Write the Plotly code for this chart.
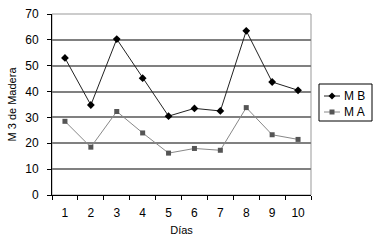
import plotly.graph_objects as go

dias = [1, 2, 3, 4, 5, 6, 7, 8, 9, 10]
mb = [53, 34.8, 60.3, 45.2, 30.5, 33.5, 32.5, 63.5, 43.7, 40.5]
ma = [28.5, 18.5, 32.3, 24, 16.2, 18, 17.3, 33.8, 23.3, 21.5]
y_ticks = [0, 10, 20, 30, 40, 50, 60, 70]
series_names = ["M B", "M A"]

fig = go.Figure()
fig.add_trace(go.Scatter(x=dias, y=mb, name=series_names[0], mode="lines+markers",
                         line=dict(color="#222222", width=1),
                         marker=dict(symbol="diamond", size=6, color="#000000")))
fig.add_trace(go.Scatter(x=dias, y=ma, name=series_names[1], mode="lines+markers",
                         line=dict(color="#888888", width=1),
                         marker=dict(symbol="square", size=5, color="#555555")))

# custom compact legend (pixel offsets from the plot's top-right corner)
def pshape(kind, x0, x1, y0, y1, **kw):
    return dict(type=kind, xref="paper", yref="paper", xsizemode="pixel", ysizemode="pixel",
                xanchor=1, yanchor=1, x0=x0, x1=x1, y0=y0, y1=y1, **kw)

shapes = [
    dict(type="rect", xref="paper", yref="paper", x0=0, x1=1, y0=0, y1=1,
         line=dict(color="#999999", width=1), layer="below"),
    pshape("rect", 8, 61, -70, -107, line=dict(color="#000000", width=1), fillcolor="white"),
    pshape("line", 13, 29, -82, -82, line=dict(color="#222222", width=1)),
    dict(type="path", xref="paper", yref="paper", xsizemode="pixel", ysizemode="pixel",
         xanchor=1, yanchor=1, path="M 21 -78.5 L 24.5 -82 L 21 -85.5 L 17.5 -82 Z",
         fillcolor="#000000", line=dict(color="#000000", width=0)),
    pshape("line", 13, 29, -98, -98, line=dict(color="#888888", width=1)),
    pshape("rect", 18.5, 23.5, -95.5, -100.5, fillcolor="#555555", line=dict(width=0)),
]
annotations = [
    dict(text=series_names[0], xref="paper", yref="paper", x=1, y=1, xshift=31, yshift=-82,
         xanchor="left", yanchor="middle", showarrow=False, font=dict(size=12)),
    dict(text=series_names[1], xref="paper", yref="paper", x=1, y=1, xshift=31, yshift=-98,
         xanchor="left", yanchor="middle", showarrow=False, font=dict(size=12)),
]

fig.update_layout(
    width=373, height=243,
    margin=dict(l=52, r=62, t=14, b=48, autoexpand=False),
    paper_bgcolor="white", plot_bgcolor="white",
    font=dict(family="Liberation Sans, Arial", size=12, color="#000000"),
    showlegend=False,
    shapes=shapes,
    annotations=annotations,
)
fig.update_xaxes(range=[0.5, 10.5], tickvals=dias, ticktext=[str(d) for d in dias],
                 ticks="", showgrid=False, zeroline=False,
                 showline=True, linecolor="#000000", linewidth=1,
                 ticklabelstandoff=7,
                 minor=dict(tick0=0.5, dtick=1, ticks="outside", ticklen=4, tickcolor="#000000", showgrid=False),
                 title=dict(text="Días", font=dict(size=11), standoff=6),
                 tickfont=dict(size=12))
fig.update_yaxes(range=[0, 70], tickvals=y_ticks, ticks="outside", ticklen=4, tickcolor="#000000",
                 showgrid=True, gridcolor="#808080", gridwidth=1.5, zeroline=False,
                 showline=True, linecolor="#000000", linewidth=1,
                 ticklabelstandoff=6, ticklabeloverflow="allow",
                 title=dict(text="M 3 de Madera", font=dict(size=11), standoff=6),
                 tickfont=dict(size=12))

fig.write_html("out.html", config={"displayModeBar": False},
               post_script="document.body.style.margin='0';document.body.style.overflow='hidden';")
